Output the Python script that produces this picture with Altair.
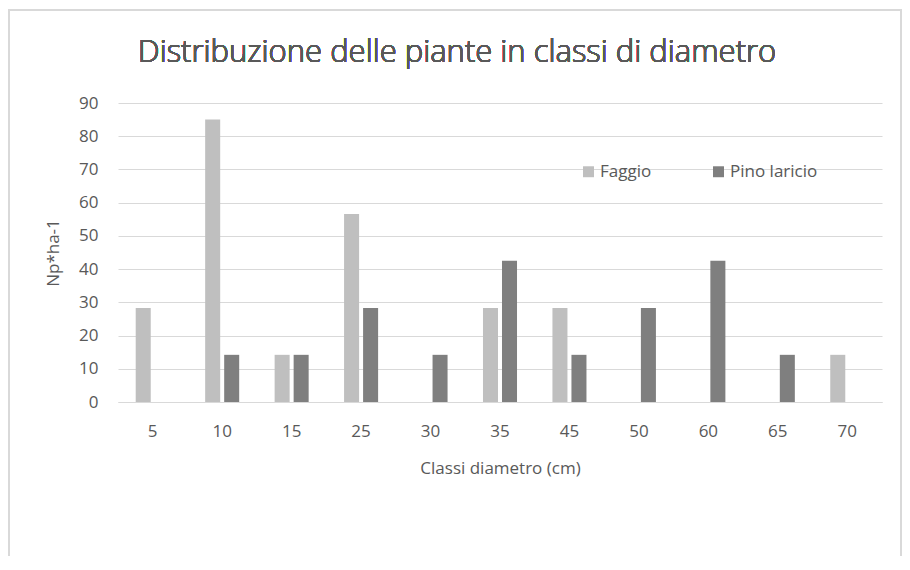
import altair as alt
import pandas as pd

classes = ["5", "10", "15", "25", "30", "35", "45", "50", "60", "65", "70"]
faggio = [28.3, 85.0, 14.2, 56.6, 0, 28.3, 28.3, 0, 0, 0, 14.2]
pino = [0, 14.2, 14.2, 28.3, 14.2, 42.5, 14.2, 28.3, 42.5, 14.2, 0]
series = ["Faggio", "Pino laricio"]
colors = ["#BFBFBF", "#7F7F7F"]
title_text = "Distribuzione delle piante in classi di diametro"

rows = []
for c, f, p in zip(classes, faggio, pino):
    rows.append({"classe": c, "serie": series[0], "val": f})
    rows.append({"classe": c, "serie": series[1], "val": p})
df = pd.DataFrame(rows)

FONT = "Open Sans"
TXT = "#595959"

bars = alt.Chart(df).mark_bar().encode(
    x=alt.X("classe:N", sort=classes,
            scale=alt.Scale(paddingInner=0.51, paddingOuter=0.255),
            axis=alt.Axis(title="Classi diametro (cm)", labelAngle=0, ticks=False,
                          domainColor="#D9D9D9", labelPadding=21, titlePadding=21)),
    xOffset=alt.XOffset("serie:N", sort=series, scale=alt.Scale(paddingInner=0.21, paddingOuter=0)),
    y=alt.Y("val:Q", scale=alt.Scale(domain=[0, 90]),
            axis=alt.Axis(title="Np*ha-1", values=list(range(0, 91, 10)), ticks=False,
                          domain=False, gridColor="#D9D9D9", labelPadding=20, titlePadding=16)),
    color=alt.Color("serie:N", sort=series,
                    scale=alt.Scale(domain=series, range=colors),
                    legend=alt.Legend(title=None, orient="none", legendX=462, legendY=60,
                                      direction="horizontal", symbolType="square",
                                      symbolSize=120, symbolStrokeWidth=0,
                                      columnPadding=58, labelOffset=3)),
)

frame = alt.Chart(df).mark_rect(fill=None, stroke="#D9D9D9", strokeWidth=2, clip=False).encode(
    x=alt.value(-109), x2=alt.value(783), y=alt.value(-93), y2=alt.value(500)
)

title = alt.Chart(df).mark_text(font="Open Sans", fontSize=31, fontWeight=300, color=TXT,
                                align="center", baseline="alphabetic", clip=False).encode(
    x=alt.value(339), y=alt.value(-41), text=alt.value(title_text)
)

chart = alt.layer(frame, bars, title).properties(
    width=764, height=299,
    padding={"left": 110, "top": 95, "right": 20, "bottom": 154},
    autosize=alt.AutoSizeParams(type="none"),
).configure_view(stroke=None).configure_axis(
    labelFont=FONT, titleFont=FONT, labelFontSize=17, titleFontSize=17,
    labelColor=TXT, titleColor=TXT, titleFontWeight="normal"
).configure_legend(labelFont=FONT, labelFontSize=17, labelColor=TXT)

chart.save("out.html", embed_options={"renderer": "svg", "actions": False})
